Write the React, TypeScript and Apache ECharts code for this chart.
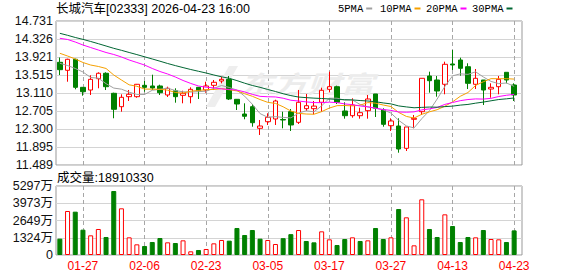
import React, { useEffect, useRef } from "react";
import * as echarts from "echarts";

// ---- data ----
const stockName = "长城汽车";
const stockCode = "02333";
const stamp = "2026-04-23 16:00";

const dates = [
  "01-22", "01-23", "01-26", "01-27", "01-28", "01-29", "01-30", "02-02", "02-03", "02-04",
  "02-05", "02-06", "02-09", "02-10", "02-11", "02-12", "02-13", "02-16", "02-20", "02-23",
  "02-24", "02-25", "02-26", "02-27", "03-02", "03-03", "03-04", "03-05", "03-06", "03-09",
  "03-10", "03-11", "03-12", "03-13", "03-16", "03-17", "03-18", "03-19", "03-20", "03-23",
  "03-24", "03-25", "03-26", "03-27", "03-30", "03-31", "04-01", "04-02", "04-08", "04-09",
  "04-10", "04-13", "04-14", "04-15", "04-16", "04-17", "04-20", "04-21", "04-22", "04-23",
];

const opens = [
  13.801, 13.621, 13.869, 13.238, 13.177, 13.432, 13.554, 13.103, 12.802, 13.027,
  13.027, 13.283, 13.268, 13.268, 13.065, 13.162, 13.058, 13.027, 13.238, 13.177,
  13.283, 13.380, 13.418, 12.968, 12.637, 12.802, 12.315, 12.464, 12.525, 12.514,
  12.689, 12.450, 12.757, 12.757, 12.901, 13.193, 13.252, 12.705, 12.599, 12.599,
  12.712, 13.088, 12.727, 12.374, 12.367, 11.865, 12.518, 12.689, 13.493, 13.403,
  13.306, 13.763, 13.853, 13.702, 13.306, 13.403, 13.200, 13.252, 13.576, 13.290,
];

const closes = [
  13.635, 13.869, 13.238, 13.139, 13.418, 13.554, 13.252, 12.743, 13.013, 13.081,
  13.306, 13.238, 13.223, 13.117, 13.216, 13.027, 13.103, 13.193, 13.162, 13.268,
  13.351, 13.418, 12.975, 12.862, 12.586, 12.441, 12.367, 12.563, 12.930, 12.502,
  12.390, 12.901, 12.824, 12.815, 13.171, 13.252, 12.901, 12.599, 12.840, 12.667,
  12.975, 12.766, 12.405, 12.480, 11.849, 12.345, 12.540, 13.441, 13.387, 13.155,
  13.756, 13.741, 13.666, 13.328, 13.441, 13.177, 13.238, 13.418, 13.403, 13.065,
];

const lows = [
  13.515, 13.364, 13.193, 13.049, 13.065, 13.216, 13.177, 12.541, 12.689, 12.930,
  13.004, 13.139, 13.178, 13.065, 13.020, 12.892, 12.878, 12.878, 12.975, 13.117,
  13.177, 13.328, 12.952, 12.727, 12.518, 12.351, 12.165, 12.390, 12.390, 12.315,
  12.255, 12.412, 12.705, 12.630, 12.689, 13.126, 12.862, 12.532, 12.554, 12.532,
  12.532, 12.570, 12.351, 12.255, 11.766, 11.804, 12.315, 12.615, 13.117, 13.027,
  13.081, 13.628, 13.500, 13.200, 13.200, 12.840, 13.004, 13.081, 13.328, 12.930,
];

const highs = [
  13.909, 13.882, 13.882, 13.245, 13.508, 13.576, 13.576, 13.117, 13.081, 13.178,
  13.313, 13.380, 13.522, 13.297, 13.252, 13.216, 13.162, 13.238, 13.245, 13.364,
  13.403, 13.477, 13.493, 12.975, 12.878, 12.862, 12.502, 12.653, 12.959, 12.689,
  12.750, 13.178, 13.088, 12.930, 13.229, 13.590, 13.275, 12.901, 12.991, 12.779,
  13.065, 13.088, 12.766, 12.540, 12.540, 12.345, 12.615, 13.441, 13.590, 13.493,
  13.815, 14.078, 13.905, 13.779, 13.650, 13.403, 13.328, 13.493, 13.576, 13.328,
];

// volume, in 万 shares
const volumes = [
  1254, 3378, 3327, 1945, 1510, 1996, 1382, 4913, 3583, 1356,
  819, 691, 998, 1305, 972, 921, 1126, 281, 384, 461,
  896, 1152, 1100, 2073, 1535, 1919, 1254, 1152, 844, 1290,
  1600, 1919, 1075, 972, 1817, 1203, 768, 1228, 1356, 1075,
  1126, 2073, 1228, 1356, 3531, 2892, 742, 4274, 1996, 1382,
  3122, 2226, 998, 1382, 1356, 1919, 1228, 1203, 998, 1891.033,
];

// moving-average values for the first days of the window
// (before the window holds enough closes to average)
const ma5Lead = [13.779, 13.729, 13.662, 13.583];
const ma10Lead = [14.004, 13.943, 13.876, 13.797, 13.740, 13.707, 13.662, 13.515, 13.403];
const ma20Lead = [
  14.341, 14.315, 14.258, 14.191, 14.134, 14.078, 14.022, 13.977, 13.921, 13.853,
  13.797, 13.740, 13.662, 13.594, 13.538, 13.470, 13.392, 13.325, 13.268,
];
const ma30Lead = [
  14.454, 14.409, 14.360, 14.317, 14.270, 14.220, 14.168, 14.116, 14.071, 14.022,
  13.975, 13.925, 13.876, 13.826, 13.774, 13.727, 13.682, 13.639, 13.599, 13.560,
  13.515, 13.475, 13.441, 13.389, 13.331, 13.279, 13.238, 13.189, 13.144,
];

const priceTicks = ["11.489", "11.895", "12.300", "12.705", "13.110", "13.515", "13.921", "14.326", "14.731"];
const volTicks = ["0", "1324万", "2649万", "3973万", "5297万"];
const volMax = 5297;
const xTickLabels = ["01-27", "02-06", "02-23", "03-05", "03-17", "03-27", "04-13", "04-23"];

const maNames = ["5PMA", "10PMA", "20PMA", "30PMA"];
const maPeriods = [5, 10, 20, 30];

// ---- helpers ----
function movingAverage(n: number, lead: number[]) {
  return closes.map((_, i) => {
    if (i < n - 1) return lead[i];
    let s = 0;
    for (let k = i - n + 1; k <= i; k++) s += closes[k];
    return +(s / n).toFixed(4);
  });
}

const FONT = '"Liberation Sans", Arial, "Noto Sans CJK SC", sans-serif';
const MONO = '"Liberation Mono", "DejaVu Sans Mono", monospace';
const RED = "#ff0000";
const GREEN = "#008000";
const maColors = ["#a0a0a0", "#f5a000", "#ff00ff", "#006633"];

export default function App() {
  const ref = useRef<HTMLDivElement>(null);

  useEffect(() => {
    if (!ref.current) return;
    const chart = echarts.init(ref.current, null, { renderer: "svg" });

    const priceMin = Number(priceTicks[0]);
    const priceMax = Number(priceTicks[priceTicks.length - 1]);
    const maLeads = [ma5Lead, ma10Lead, ma20Lead, ma30Lead];
    const maData = maPeriods.map((p, k) => movingAverage(p, maLeads[k]));

    const candleData = dates.map((_, i) => [opens[i], closes[i], lows[i], highs[i]]);
    const volData = volumes.map((v, i) => {
      const up = i === 0 ? closes[i] >= opens[i] : closes[i] >= closes[i - 1];
      return {
        value: v,
        itemStyle: up
          ? { color: "#ffffff", borderColor: RED, borderWidth: 1 }
          : { color: GREEN, borderColor: GREEN, borderWidth: 1 },
      };
    });

    const lastVol = Math.round(volumes[volumes.length - 1] * 10000);
    const showDate = (_: number, v: string) => xTickLabels.includes(v);
    const dashed = () => ({
      show: true,
      interval: showDate,
      alignWithLabel: true,
      lineStyle: { color: "#a6a6a6", width: 1, type: [4, 3] },
    });

    // legend positions
    const legendX = [338, 380, 426, 472];
    const legendGraphics: any[] = [];
    maNames.forEach((n, k) => {
      legendGraphics.push({
        type: "text",
        x: legendX[k],
        y: 8.5,
        style: { text: n, fontSize: 10.5, fontFamily: MONO, fill: "#000", verticalAlign: "middle" },
      });
      legendGraphics.push({
        type: "rect",
        shape: { x: legendX[k] + n.length * 6.3 + 3, y: 7.5, width: 6, height: 2 },
        style: { fill: maColors[k] },
      });
    });

    const option: any = {
      animation: false,
      textStyle: { fontFamily: FONT },
      grid: [
        { left: 56, top: 21, width: 466, height: 144, show: true, borderColor: "#999", borderWidth: 1, backgroundColor: "transparent" },
        { left: 56, top: 21, width: 462, height: 144 },
        { left: 56, top: 186, width: 466, height: 69, show: true, borderColor: "#999", borderWidth: 1, backgroundColor: "transparent" },
        { left: 56, top: 186, width: 462, height: 69 },
      ],
      xAxis: [
        { gridIndex: 0, type: "value", min: 0, max: 1, show: false },
        {
          gridIndex: 1, type: "category", data: dates, boundaryGap: true,
          axisLine: { show: false },
          axisTick: { show: false, interval: showDate, alignWithLabel: true },
          axisLabel: { show: false, interval: showDate },
          splitLine: dashed(),
        },
        { gridIndex: 2, type: "value", min: 0, max: 1, show: false },
        {
          gridIndex: 3, type: "category", data: dates, boundaryGap: true,
          axisLine: { show: false },
          axisTick: { show: false, interval: showDate, alignWithLabel: true },
          splitLine: dashed(),
          axisLabel: {
            interval: showDate,
            color: RED, fontSize: 12, margin: 5, fontFamily: FONT,
          },
        },
      ],
      yAxis: [
        {
          gridIndex: 0, type: "value", min: 0, max: priceTicks.length - 1, interval: 1,
          axisLine: { show: false }, axisTick: { show: false },
          axisLabel: {
            formatter: (v: number) => priceTicks[Math.round(v)],
            color: "#111", fontSize: 12.5, margin: 3, fontFamily: FONT,
          },
          splitLine: { show: true, lineStyle: { color: "#d4d4d4", width: 1 } },
        },
        { gridIndex: 1, type: "value", min: priceMin, max: priceMax, show: false },
        {
          gridIndex: 2, type: "value", min: 0, max: volTicks.length - 1, interval: 1,
          axisLine: { show: false }, axisTick: { show: false },
          axisLabel: {
            formatter: (v: number) => volTicks[Math.round(v)],
            color: "#111", fontSize: 12.5, margin: 3, fontFamily: FONT,
          },
          splitLine: { show: true, lineStyle: { color: "#d4d4d4", width: 1 } },
        },
        { gridIndex: 3, type: "value", min: 0, max: volMax, show: false },
      ],
      series: [
        {
          type: "candlestick",
          xAxisIndex: 1,
          yAxisIndex: 1,
          data: candleData,
          barWidth: 5,
          z: 3,
          itemStyle: {
            color: "#ffffff",
            color0: GREEN,
            borderColor: RED,
            borderColor0: GREEN,
            borderWidth: 1,
          },
        },
        ...maNames.map((n, k) => ({
          type: "line",
          name: n,
          xAxisIndex: 1,
          yAxisIndex: 1,
          data: maData[k],
          symbol: "none",
          showSymbol: false,
          z: 4 + k,
          lineStyle: { color: maColors[k], width: 1 },
          itemStyle: { color: maColors[k] },
        })),
        {
          type: "bar",
          xAxisIndex: 3,
          yAxisIndex: 3,
          data: volData,
          barWidth: 5,
          z: 3,
        },
      ],
      graphic: [
        {
          type: "text",
          x: 240,
          y: 82,
          scaleX: 1.4,
          z: 1,
          silent: true,
          style: {
            text: "东方财富",
            fontSize: 24,
            fontStyle: "italic",
            fontWeight: "bold",
            fontFamily: '"Noto Sans CJK SC", sans-serif',
            fill: "#ececec",
            verticalAlign: "middle",
          },
        },
        {
          type: "polygon",
          z: 1,
          silent: true,
          shape: { points: [[206, 107], [215, 107], [238, 66], [229, 66]] },
          style: { fill: "#eeeeee" },
        },
        {
          type: "text",
          x: 56,
          y: 8.5,
          style: {
            text: `${stockName}[${stockCode}] ${stamp}`,
            fontSize: 12.5,
            fontFamily: FONT,
            fill: "#000",
            verticalAlign: "middle",
          },
        },
        {
          type: "text",
          x: 57,
          y: 177.5,
          style: {
            text: `成交量:${lastVol}`,
            fontSize: 12.5,
            fontFamily: FONT,
            fill: "#000",
            verticalAlign: "middle",
          },
        },
        ...legendGraphics,
      ],
    };

    chart.setOption(option);
    return () => chart.dispose();
  }, []);

  return (
    <div
      ref={ref}
      style={{ position: "fixed", left: 0, top: 0, width: 578, height: 276, background: "#fff" }}
    />
  );
}
